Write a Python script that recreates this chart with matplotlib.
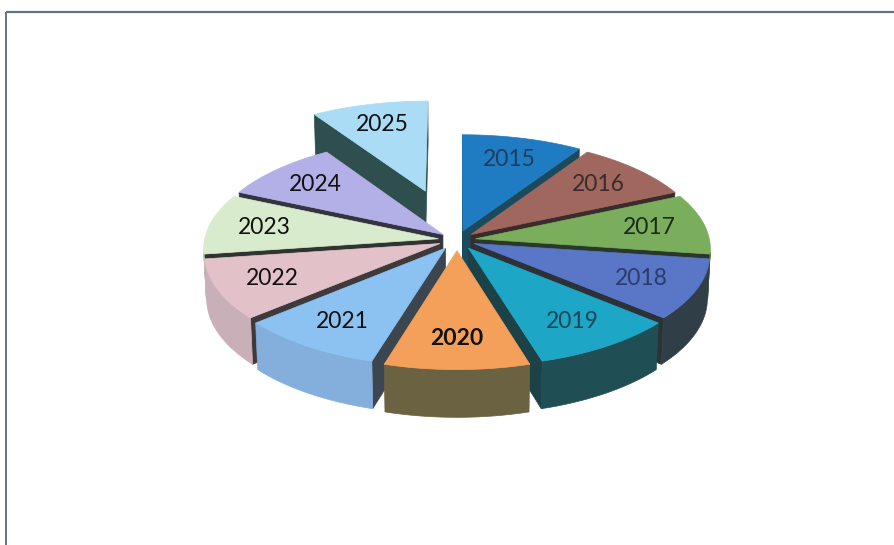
import numpy as np
import matplotlib.pyplot as plt
from matplotlib.colors import to_rgb
from matplotlib.patches import Polygon

# one slice per year, all the same size
years = ["2015", "2016", "2017", "2018", "2019", "2020",
         "2021", "2022", "2023", "2024", "2025"]
shares = [1, 1, 1, 1, 1, 1, 1, 1, 1, 1, 1]

top_colors = ["#1f7cc2", "#a0675e", "#7aad5c", "#5a76c6", "#1ea6c6", "#f4a05a",
              "#8cc2f2", "#e2c2c8", "#d8ebcd", "#b2b0e6", "#aadcf6"]
side_colors = ["#1b5b82", "#6e4a44", "#4e7040", "#303f47", "#1f4f54", "#6a6240",
               "#84aedc", "#c9afb7", "#bccab2", "#8c8ab8", "#365c5c"]
cut_colors = ["#1a4a5c", "#3a2c2a", "#2a382c", "#2a3238", "#1c4248", "#4a4630",
              "#3c4650", "#3e3a3c", "#303430", "#34343e", "#2f4f4f"]
text_colors = ["#1d3e5c", "#3a2c2a", "#1c2a1a", "#2a3c6a", "#1c4658", "#111111",
               "#111111", "#111111", "#111111", "#111111", "#111111"]
explode = [0.09, 0.08, 0.08, 0.08, 0.09, 0.10, 0.09, 0.08, 0.08, 0.08, 0.50]

# projection of the pie: centre, scale, tilt, camera distance, thickness
CX, CY = 457, 240
S = 234
PHI = np.deg2rad(27)
L = 10.0
H = 0.215


def project(u, v, z):
    f = L / (L + v * np.cos(PHI) - z * np.sin(PHI))
    return CX + S * u * f, CY - S * (v * np.sin(PHI) + z * np.cos(PHI)) * f


def depth(u, v, z):
    return v * np.cos(PHI) - z * np.sin(PHI)


def area(pts):
    x, y = np.asarray(pts).T
    return 0.5 * np.sum(x * np.roll(y, -1) - np.roll(x, -1) * y)


fig = plt.figure(figsize=(8.94, 5.45), dpi=100)
ax = fig.add_axes([0, 0, 1, 1])
ax.set_xlim(0, 894)
ax.set_ylim(545, 0)
ax.axis("off")

total = sum(shares)
cum = np.concatenate([[0], np.cumsum(shares)])

sides = []   # (depth, polygon, colour)
tops = []
labels = []
for i, year in enumerate(years):
    t1 = np.deg2rad(90 - 360 * cum[i] / total)
    t2 = np.deg2rad(90 - 360 * cum[i + 1] / total)
    mid = 0.5 * (t1 + t2)
    ou, ov = explode[i] * np.cos(mid), explode[i] * np.sin(mid)
    th = np.linspace(t1, t2, 60)
    au, av = ou + np.cos(th), ov + np.sin(th)

    top = [project(ou, ov, 0)] + [project(a, b, 0) for a, b in zip(au, av)]
    tops.append((top, top_colors[i]))

    # outer rim: keep the pieces that face the camera, joined into one patch
    vis = []
    for k in range(len(th) - 1):
        q3 = [(au[k], av[k], 0), (au[k + 1], av[k + 1], 0),
              (au[k + 1], av[k + 1], -H), (au[k], av[k], -H)]
        if area([project(*p) for p in q3]) < 0:
            vis.append(k)
    if vis:
        ks = list(range(vis[0], vis[-1] + 2))
        rim = [project(au[k], av[k], 0) for k in ks] + \
              [project(au[k], av[k], -H) for k in ks[::-1]]
        d = np.mean([depth(au[k], av[k], -H / 2) for k in ks])
        sides.append((d, rim, to_rgb(side_colors[i])))

    # the two cut faces
    apex_t, apex_b = (ou, ov, 0), (ou, ov, -H)
    o1t, o1b = (au[0], av[0], 0), (au[0], av[0], -H)
    o2t, o2b = (au[-1], av[-1], 0), (au[-1], av[-1], -H)
    for q3 in ([apex_t, o1t, o1b, apex_b], [o2t, apex_t, apex_b, o2b]):
        q = [project(*p) for p in q3]
        if area(q) < 0:
            d = np.mean([depth(*p) for p in q3])
            sides.append((d, q, to_rgb(cut_colors[i])))

    lx, ly = project(ou + 0.76 * np.cos(mid), ov + 0.76 * np.sin(mid), 0)
    labels.append((lx, ly, year, text_colors[i],
                   "bold" if year == "2020" else "normal"))

for d, q, c in sorted(sides, key=lambda s: -s[0]):
    ax.add_patch(Polygon(q, closed=True, facecolor=c, edgecolor=c, lw=0.5))
for q, c in tops:
    ax.add_patch(Polygon(q, closed=True, facecolor=c, edgecolor=c, lw=0.5))

for lx, ly, txt, c, w in labels:
    ax.text(lx, ly, txt, ha="center", va="center", fontsize=16.5,
            family="Lato", color=c, fontweight=w)

# chart frame (top and left edges)
ax.plot([6, 894], [12, 12], color="#5f7488", lw=1.6, solid_capstyle="butt")
ax.plot([6, 6], [12, 545], color="#6c737a", lw=1.4, solid_capstyle="butt")

fig.savefig("out.png", dpi=100)
